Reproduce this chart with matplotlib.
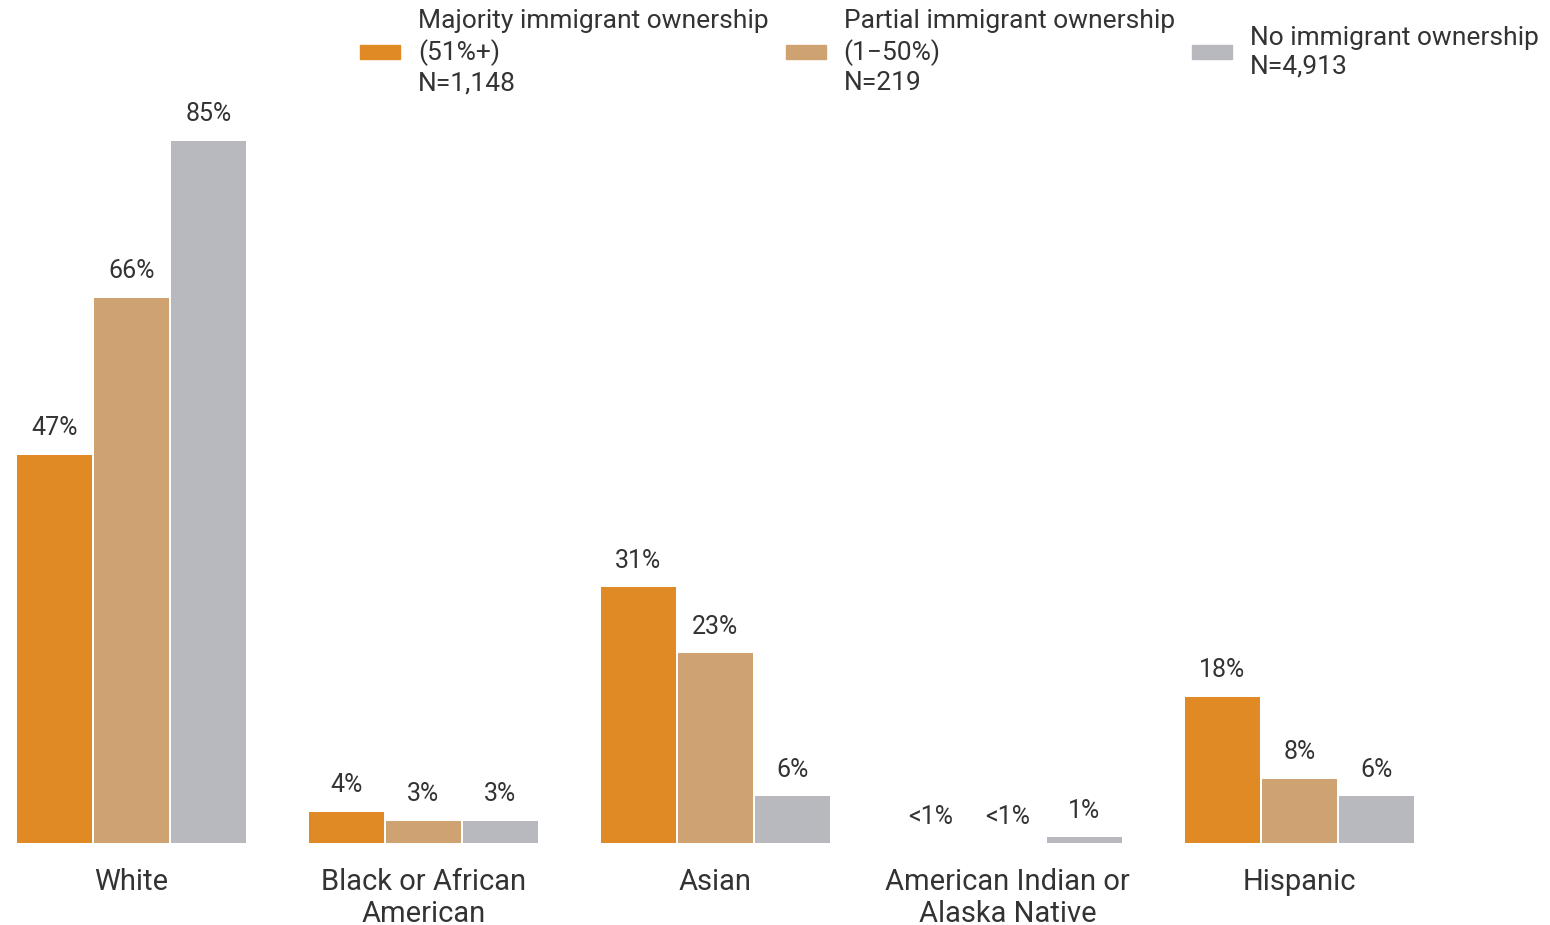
import matplotlib.pyplot as plt
import matplotlib.patches as mpatches
import numpy as np

plt.rcParams['font.family'] = ['Roboto', 'DejaVu Sans']
plt.rcParams['text.color'] = '#333333'

categories = ['White', 'Black or African\nAmerican', 'Asian',
              'American Indian or\nAlaska Native', 'Hispanic']
series_names = ['Majority immigrant ownership\n(51%+)\nN=1,148',
                'Partial immigrant ownership\n(1\u221250%)\nN=219',
                'No immigrant ownership\nN=4,913']
majority = [47, 3.8, 31, 0, 17.7]
partial = [66, 2.7, 23, 0, 7.8]
none_ = [85, 2.7, 5.7, 0.7, 5.7]
majority_labels = ['47%', '4%', '31%', '<1%', '18%']
partial_labels = ['66%', '3%', '23%', '<1%', '8%']
none_labels = ['85%', '3%', '6%', '1%', '6%']
colors = ['#E08A25', '#CFA272', '#B8B9BE']

fig = plt.figure(figsize=(15.5, 9.25), dpi=100)
ax = fig.add_axes([0.0103, 0.0886, 0.9025, 0.893])

x = np.arange(len(categories))
step = 0.2637
width = 0.2568
series = [majority, partial, none_]
labels = [majority_labels, partial_labels, none_labels]
for i, (vals, labs) in enumerate(zip(series, labels)):
    pos = x + (i - 1) * step
    ax.bar(pos, vals, width=width, color=colors[i])
    for px, v, t in zip(pos, vals, labs):
        ax.annotate(t, (px, v), xytext=(0, 14), textcoords='offset points',
                    ha='center', va='baseline', fontsize=18, color='#333333')

ax.set_xlim(-0.395, 4.395)
ax.set_ylim(0, 100)
ax.set_xticks(x)
ax.set_xticklabels(categories, fontsize=21, color='#333333', linespacing=1.16)
ax.tick_params(axis='x', length=0, pad=18)
ax.set_yticks([])
for s in ax.spines.values():
    s.set_visible(False)

handles = [mpatches.Patch(color=c) for c in colors]
leg = fig.legend(handles, series_names, loc='upper left', bbox_to_anchor=(0.2238, 1.004),
                 ncol=3, frameon=False, fontsize=19, handlelength=1.52, handleheight=0.45,
                 handletextpad=0.68, columnspacing=0.64, borderpad=0)
for t in leg.get_texts():
    t.set_linespacing(1.27)

fig.savefig('out.png', dpi=100)
